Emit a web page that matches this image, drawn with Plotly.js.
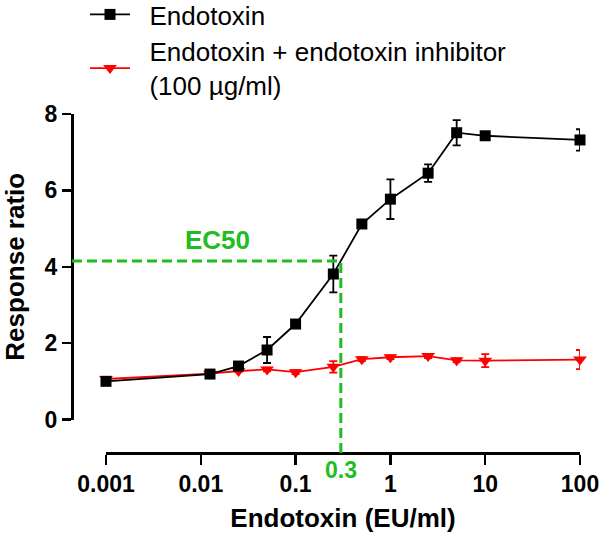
<!DOCTYPE html>
<html>
<head>
<meta charset="utf-8">
<script src="https://cdn.plot.ly/plotly-3.0.1.min.js"></script>
<style>html,body{margin:0;padding:0;background:#fff;}#chart{width:600px;height:536px;}</style>
</head>
<body>
<div id="chart"></div>
<script>
// ---- data ----
var doses = [0.001, 0.0125, 0.025, 0.05, 0.1, 0.25, 0.5, 1, 2.5, 5, 10, 100];
var endotoxin = [1.0, 1.19, 1.40, 1.82, 2.50, 3.81, 5.12, 5.77, 6.45, 7.51, 7.43, 7.32];
var endotoxinErr = [0.04, 0.05, 0.05, 0.34, 0.06, 0.48, 0.08, 0.52, 0.23, 0.33, 0.05, 0.28];
var inhibited = [1.06, 1.20, 1.27, 1.31, 1.24, 1.38, 1.58, 1.63, 1.66, 1.55, 1.54, 1.57];
var inhibitedErr = [0.03, 0.03, 0.03, 0.05, 0.05, 0.15, 0.05, 0.05, 0.05, 0.05, 0.17, 0.25];
var seriesNames = ['\u00a0\u00a0Endotoxin', '\u00a0\u00a0Endotoxin + endotoxin inhibitor<br>\u00a0\u00a0(100 µg/ml)'];
var xTickVals = [0.001, 0.01, 0.1, 1, 10, 100];
var xTickText = ['0.001', '0.01', '0.1', '1', '10', '100'];
var ec50X = 0.3;
var ec50Y = 4.15;
var ec50Label = 'EC50';
var ec50XLabel = '0.3';

// ---- layout constants ----
var W = 600, H = 536;
var mL = 72, mR = 20, mT = 114, mB = 83;
var pw = W - mL - mR, ph = H - mT - mB;
var xDom = [(106 - mL) / pw, 1];
var yDom = [(453 - 419.5) / ph, 1];
var xRange = [-3, 2];
var yRange = [0, 8];
var green = '#1fbd1f';
var fontFam = '"Liberation Sans", Arial, Helvetica, sans-serif';

function xPaper(v) {
  return xDom[0] + (Math.log10(v) - xRange[0]) / (xRange[1] - xRange[0]) * (xDom[1] - xDom[0]);
}
function yPaper(v) {
  return yDom[0] + (v - yRange[0]) / (yRange[1] - yRange[0]) * (yDom[1] - yDom[0]);
}

var traces = [
  {
    x: doses, y: inhibited, name: seriesNames[1], type: 'scatter', mode: 'lines+markers',
    line: {color: '#ff0000', width: 1.8},
    marker: {symbol: 'triangle-down', size: 12, color: '#ff0000'},
    error_y: {type: 'data', array: inhibitedErr, visible: true, color: '#ff0000', thickness: 1.8, width: 4},
    cliponaxis: false
  },
  {
    x: doses, y: endotoxin, name: seriesNames[0], type: 'scatter', mode: 'lines+markers',
    line: {color: '#000', width: 1.8},
    marker: {symbol: 'square', size: 11, color: '#000'},
    error_y: {type: 'data', array: endotoxinErr, visible: true, color: '#000', thickness: 1.8, width: 4},
    cliponaxis: false
  }
];

var layout = {
  width: W, height: H,
  margin: {l: mL, r: mR, t: mT, b: mB, autoexpand: false},
  paper_bgcolor: '#fff', plot_bgcolor: '#fff',
  font: {family: fontFam, color: '#000'},
  showlegend: true,
  legend: {
    x: (85 - mL) / pw, xanchor: 'left',
    y: 1 + (mT + 9) / ph, yanchor: 'top',
    font: {size: 26, family: fontFam, color: '#000'},
    bgcolor: 'rgba(0,0,0,0)',
    traceorder: 'reversed',
    itemwidth: 40,
    tracegroupgap: 0
  },
  xaxis: {
    type: 'log', range: xRange, domain: xDom,
    anchor: 'free', position: 0,
    showline: true, linecolor: '#000', linewidth: 2.5,
    ticks: 'outside', ticklen: 10, tickwidth: 2.5, tickcolor: '#000',
    tickvals: xTickVals, ticktext: xTickText,
    tickfont: {size: 23, weight: 'bold', family: fontFam, color: '#000'},
    showgrid: false, zeroline: false,
    title: {text: 'Endotoxin (EU/ml)', font: {size: 26, weight: 'bold', family: fontFam, color: '#000'}, standoff: 12}
  },
  yaxis: {
    range: yRange, domain: yDom,
    anchor: 'free', position: 0,
    showline: true, linecolor: '#000', linewidth: 2.5,
    ticks: 'outside', ticklen: 9, tickwidth: 2.5, tickcolor: '#000',
    dtick: 2, tick0: 0,
    tickfont: {size: 23, weight: 'bold', family: fontFam, color: '#000'},
    showgrid: false, zeroline: false,
    title: {text: 'Response ratio', font: {size: 26, weight: 'bold', family: fontFam, color: '#000'}, standoff: 12}
  },
  shapes: [
    {type: 'line', xref: 'paper', yref: 'y', x0: 0, x1: xPaper(ec50X), y0: ec50Y, y1: ec50Y,
     line: {color: green, width: 3, dash: '10px,5px'}, layer: 'above'},
    {type: 'line', xref: 'x', yref: 'paper', x0: ec50X, x1: ec50X, y0: 0, y1: yPaper(ec50Y),
     line: {color: green, width: 3, dash: '10px,5px'}, layer: 'above'}
  ],
  annotations: [
    {text: ec50Label, xref: 'paper', yref: 'y', x: (217.5 - mL) / pw, y: ec50Y + 0.55,
     xanchor: 'center', yanchor: 'middle',
     showarrow: false, font: {size: 26, weight: 'bold', color: green, family: fontFam}},
    {text: ec50XLabel, xref: 'x', yref: 'paper', x: Math.log10(ec50X), y: 0,
     xanchor: 'center', yanchor: 'top', yshift: -2,
     showarrow: false, font: {size: 23, weight: 'bold', color: green, family: fontFam}}
  ]
};

Plotly.newPlot('chart', traces, layout, {displayModeBar: false, staticPlot: true});
</script>
</body>
</html>
